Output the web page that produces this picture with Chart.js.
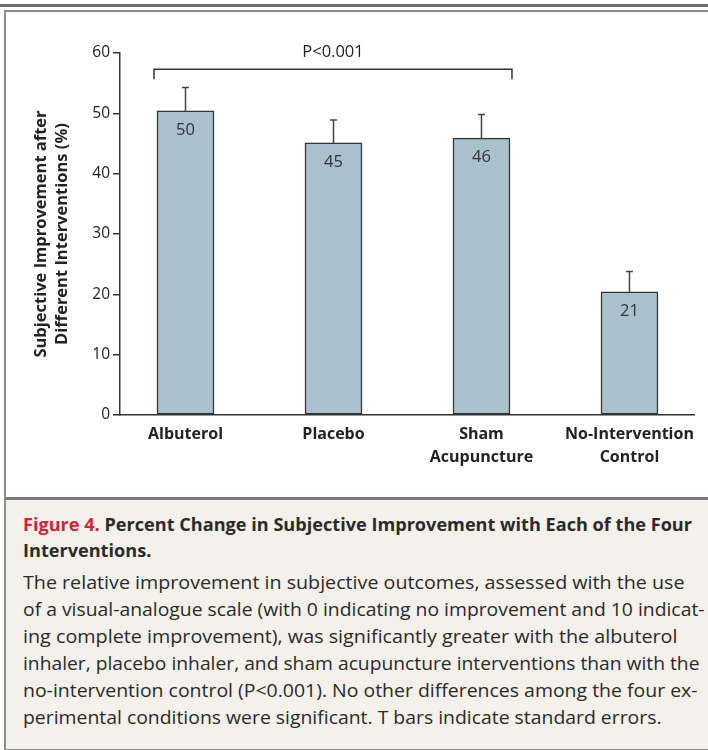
<!DOCTYPE html>
<html>
<head>
<meta charset="utf-8">
<script src="https://cdn.jsdelivr.net/npm/chart.js@4.4.1/dist/chart.umd.min.js"></script>
<style>
  html, body { margin: 0; padding: 0; background: #fff; }
  body { width: 708px; height: 750px; position: relative; overflow: hidden; font-family: "Open Sans", sans-serif; }
  #topRule { position: absolute; left: 0; top: 4px; width: 708px; height: 3px; background: #6e6e6e; }
  #frame { position: absolute; left: 4px; top: 10px; width: 720px; height: 736px; border: 2px solid #8c8c8c; background: #fff; }
  #caption { position: absolute; left: 6px; top: 497px; width: 720px; height: 249px; background: #f4f1eb; border-top: 3px solid #7a7a7a; }
  #chartBox { position: absolute; left: 0; top: 0; width: 708px; height: 497px; }
  .cap { position: absolute; left: 22.5px; color: #2a2a2a; }
  .cap .line { display: inline-block; white-space: nowrap; transform-origin: 0 50%; }
  .capTitle { font-weight: 700; font-size: 18.1px; line-height: 26px; top: 511px; }
  .capTitle .fig { color: #d2233a; }
  .capBody { font-size: 19px; line-height: 27px; top: 569px; }
</style>
</head>
<body>
<div id="topRule"></div>
<div id="frame"></div>
<div id="caption"></div>
<div class="cap capTitle">
  <span class="line" data-end="691.5"><span class="fig">Figure 4.</span> Percent Change in Subjective Improvement with Each of the Four</span><br>
  <span class="line" data-same="prev">Interventions.</span>
</div>
<div class="cap capBody">
  <span class="line" data-end="684">The relative improvement in subjective outcomes, assessed with the use</span><br>
  <span class="line" data-end="704">of a visual-analogue scale (with 0 indicating no improvement and 10 indicat-</span><br>
  <span class="line" data-end="677">ing complete improvement), was significantly greater with the albuterol</span><br>
  <span class="line" data-end="699">inhaler, placebo inhaler, and sham acupuncture interventions than with the</span><br>
  <span class="line" data-end="697">no-intervention control (P&lt;0.001). No other differences among the four ex-</span><br>
  <span class="line" data-end="661">perimental conditions were significant. T bars indicate standard errors.</span>
</div>
<div id="chartBox"><canvas id="chart" width="708" height="497"></canvas></div>

<script>
// Values
const categories = [["Albuterol"], ["Placebo"], ["Sham", "Acupuncture"], ["No-Intervention", "Control"]];
const improvement = [50.4, 45.1, 45.9, 20.4];
const standardError = [3.9, 3.8, 3.9, 3.4];
const valueLabels = ["50", "45", "46", "21"];
const yTicks = [0, 10, 20, 30, 40, 50, 60];

// significance bracket (category indexes + level on the y scale)
const bracketSpan = [0, 2];
const bracketLevel = 57.3;
const bracketText = "P<0.001";

const ink = "#333";
const barFill = "#a9c1cd";

// squeeze/stretch caption lines so the line breaks sit where they do in print
let lastScale = 1;
document.querySelectorAll(".cap .line").forEach(el => {
  const w = el.getBoundingClientRect().width;
  if (el.dataset.end) lastScale = (+el.dataset.end - 22.5) / w;
  el.style.transform = "scaleX(" + lastScale + ")";
});

Chart.defaults.font.family = "'Open Sans', sans-serif";
Chart.defaults.color = "#222";

// draws T bars, numbers in the bars and the P bracket
const annotations = {
  id: "annotations",
  afterDatasetsDraw(chart) {
    const ctx = chart.ctx;
    const xs = chart.scales.x;
    const ys = chart.scales.y;
    const meta = chart.getDatasetMeta(0);
    ctx.save();
    ctx.strokeStyle = "#444";
    ctx.lineWidth = 1.5;
    meta.data.forEach((bar, i) => {
      const x = bar.x;
      const yTop = ys.getPixelForValue(improvement[i]);
      const yErr = ys.getPixelForValue(improvement[i] + standardError[i]);
      ctx.beginPath();
      ctx.moveTo(x, yTop);
      ctx.lineTo(x, yErr);
      ctx.moveTo(x - 3.5, yErr);
      ctx.lineTo(x + 3.5, yErr);
      ctx.stroke();

      ctx.fillStyle = "#333";
      ctx.font = "16.5px 'Open Sans', sans-serif";
      ctx.textAlign = "center";
      ctx.textBaseline = "middle";
      ctx.fillText(valueLabels[i], x, yTop + 19);
    });

    // bracket
    const x1 = xs.getPixelForValue(bracketSpan[0]) - 31.5;
    const x2 = xs.getPixelForValue(bracketSpan[1]) + 30.5;
    const yb = ys.getPixelForValue(bracketLevel);
    ctx.strokeStyle = ink;
    ctx.lineWidth = 1.5;
    ctx.beginPath();
    ctx.moveTo(x1, yb + 10);
    ctx.lineTo(x1, yb);
    ctx.lineTo(x2, yb);
    ctx.lineTo(x2, yb + 10);
    ctx.stroke();
    ctx.fillStyle = "#222";
    ctx.font = "16.5px 'Open Sans', sans-serif";
    ctx.textAlign = "center";
    ctx.textBaseline = "middle";
    ctx.fillText(bracketText, (x1 + x2) / 2, yb - 17);
    ctx.restore();
  }
};

new Chart(document.getElementById("chart"), {
  type: "bar",
  data: {
    datasets: [{
      data: improvement.map((v, i) => ({ x: i, y: v })),
      backgroundColor: barFill,
      borderColor: ink,
      borderWidth: 1.5,
      borderSkipped: false,
      barThickness: 57
    }]
  },
  options: {
    responsive: false,
    animation: false,
    events: [],
    layout: { padding: { top: 53, right: 14, bottom: 0, left: 0 } },
    plugins: { legend: { display: false }, tooltip: { enabled: false } },
    scales: {
      x: {
        type: "linear",
        offset: false,
        min: -0.4426,
        max: 3.436,
        grid: { display: false, drawTicks: false },
        border: { display: true, color: ink, width: 1.5 },
        afterBuildTicks: s => { s.ticks = categories.map((c, i) => ({ value: i })); },
        afterFit: s => { s.height = 82; },
        ticks: {
          autoSkip: false,
          maxRotation: 0,
          padding: 8,
          color: "#222",
          font: { size: 16, weight: "bold", lineHeight: 1.45 },
          callback: v => categories[v]
        }
      },
      y: {
        min: 0,
        max: 60,
        afterBuildTicks: s => { s.ticks = yTicks.map(v => ({ value: v })); },
        afterFit: s => { s.width = 120; },
        grid: { drawOnChartArea: false, drawTicks: true, tickLength: 7, color: ink, lineWidth: 1.5 },
        border: { display: true, color: ink, width: 1.5 },
        ticks: { padding: 3, color: "#222", font: { size: 15.5 } },
        title: {
          display: true,
          text: ["Subjective Improvement after", "Different Interventions (%)"],
          color: "#222",
          font: { size: 16.5, weight: "bold", lineHeight: 1.25 },
          padding: { top: 31, bottom: 0 }
        }
      }
    }
  },
  plugins: [annotations]
});
</script>
</body>
</html>
